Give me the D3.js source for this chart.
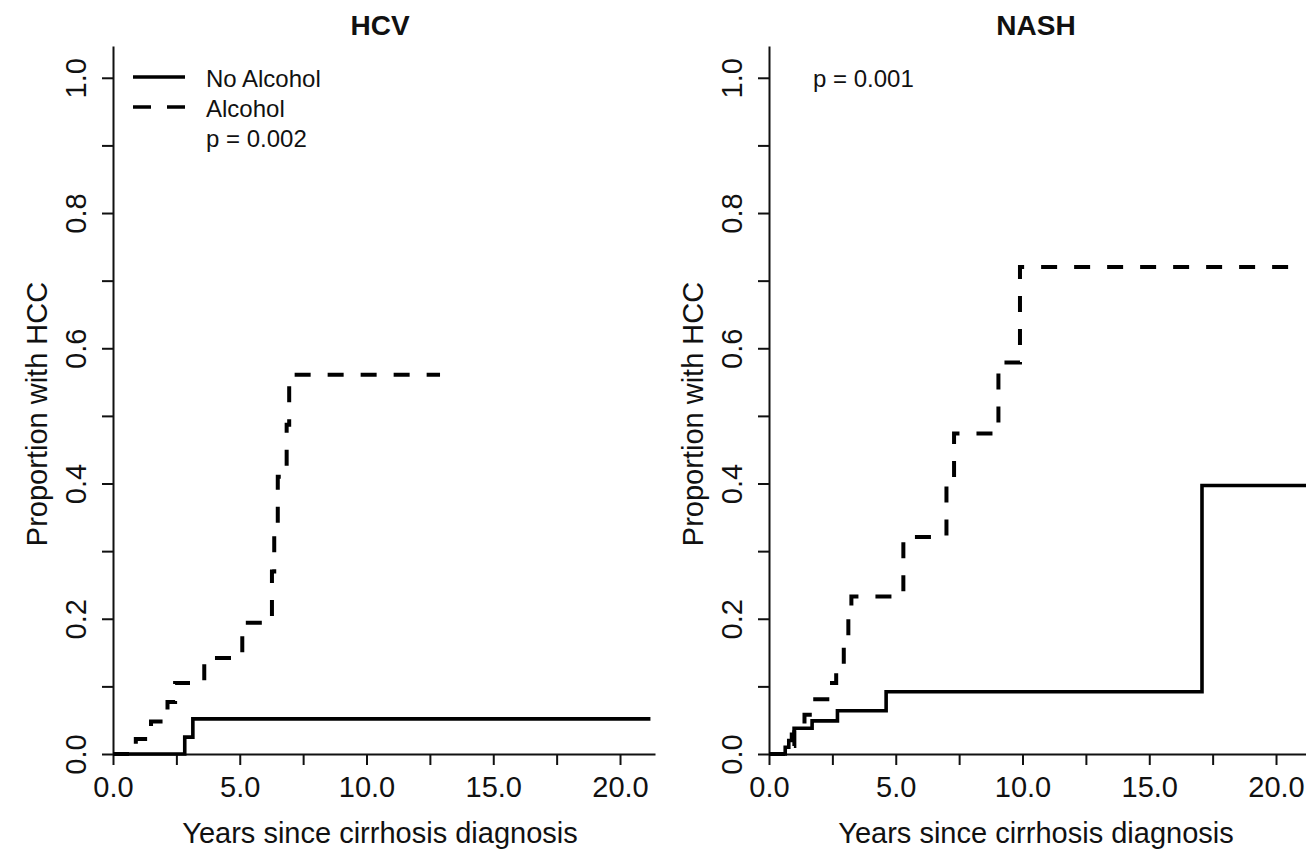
<!DOCTYPE html>
<html>
<head>
<meta charset="utf-8">
<script src="https://cdn.jsdelivr.net/npm/d3@7"></script>
<style>
  body { margin: 0; background: #fff; }
  svg { display: block; font-family: "Liberation Sans", Arial, Helvetica, sans-serif; }
</style>
</head>
<body>
<div id="chart"></div>
<script>
// Kaplan-Meier style step data (years, proportion with HCC)
const hcvNoAlcoholTime = [0, 2.83, 3.15, 21.2];
const hcvNoAlcoholProp = [0, 0.025, 0.052, 0.052];
const hcvAlcoholTime = [0, 0.9, 1.5, 2.15, 2.45, 3.6, 5.1, 6.27, 6.36, 6.5, 6.85, 6.95, 12.9];
const hcvAlcoholProp = [0, 0.022, 0.048, 0.077, 0.105, 0.142, 0.194, 0.27, 0.34, 0.41, 0.487, 0.561, 0.561];

const nashNoAlcoholTime = [0, 0.64, 0.78, 0.89, 0.99, 1.7, 2.7, 4.62, 17.08, 21.6];
const nashNoAlcoholProp = [0, 0.01, 0.02, 0.029, 0.038, 0.049, 0.064, 0.092, 0.397, 0.397];
const nashAlcoholTime = [0, 0.7, 1.0, 1.4, 1.7, 2.3, 2.65, 2.95, 3.13, 3.25, 5.3, 7.0, 7.3, 9.05, 9.9, 20.6];
const nashAlcoholProp = [0, 0.012, 0.035, 0.058, 0.081, 0.105, 0.128, 0.17, 0.2, 0.233, 0.321, 0.408, 0.474, 0.579, 0.72, 0.72];

const xTicks = [0, 2.5, 5, 7.5, 10, 12.5, 15, 17.5, 20];
const yTicks = [0, 0.1, 0.2, 0.3, 0.4, 0.5, 0.6, 0.7, 0.8, 0.9, 1.0];
const panelTitles = ['HCV', 'NASH'];
const pValues = ['p = 0.002', 'p = 0.001'];
const legendLabels = ['No Alcohol', 'Alcohol'];

const width = 1306, height = 851;
const svg = d3.select('#chart').append('svg')
  .attr('width', width)
  .attr('height', height);

const panels = [
  { left: 113, noAlc: [hcvNoAlcoholTime, hcvNoAlcoholProp], alc: [hcvAlcoholTime, hcvAlcoholProp] },
  { left: 769, noAlc: [nashNoAlcoholTime, nashNoAlcoholProp], alc: [nashAlcoholTime, nashAlcoholProp] }
];

panels.forEach((p, i) => {
  const x = d3.scaleLinear().domain([0, 21.38]).range([p.left, p.left + 542]);
  const y = d3.scaleLinear().domain([0, 1.047]).range([754, 46]);

  const g = svg.append('g');

  // x axis
  const xAxis = d3.axisBottom(x)
    .tickValues(xTicks)
    .tickSize(11)
    .tickSizeOuter(0)
    .tickFormat(d => (d % 5 === 0 ? d.toFixed(1) : ''));
  const gx = g.append('g').attr('transform', `translate(0,${y(0)})`).call(xAxis);
  gx.select('.domain').attr('stroke', '#111').attr('stroke-width', 2);
  gx.selectAll('.tick line').attr('stroke', '#111').attr('stroke-width', 2);
  gx.selectAll('.tick text')
    .attr('y', 43).attr('dy', 0)
    .attr('fill', '#111')
    .style('font-size', '29px');

  // y axis
  const yAxis = d3.axisLeft(y)
    .tickValues(yTicks)
    .tickSize(11)
    .tickSizeOuter(0)
    .tickFormat(d => (Math.round(d * 10) % 2 === 0 ? d.toFixed(1) : ''));
  const gy = g.append('g').attr('transform', `translate(${x(0)},0)`).call(yAxis);
  gy.select('.domain').attr('stroke', '#111').attr('stroke-width', 2);
  gy.selectAll('.tick line').attr('stroke', '#111').attr('stroke-width', 2);
  gy.selectAll('.tick text')
    .attr('transform', 'rotate(-90)')
    .attr('x', 0).attr('y', -27).attr('dy', 0)
    .attr('text-anchor', 'middle')
    .attr('fill', '#111')
    .style('font-size', '29px');

  // step curves
  const line = d3.line()
    .x(d => x(d[0]))
    .y(d => y(d[1]))
    .curve(d3.curveStepAfter);

  const solid = d3.zip(p.noAlc[0], p.noAlc[1]);
  const dashed = d3.zip(p.alc[0], p.alc[1]);

  g.append('path')
    .datum(dashed)
    .attr('fill', 'none')
    .attr('stroke', '#000')
    .attr('stroke-width', 4)
    .attr('stroke-dasharray', '16,17')
    .attr('d', line);

  g.append('path')
    .datum(solid)
    .attr('fill', 'none')
    .attr('stroke', '#000')
    .attr('stroke-width', 3.6)
    .attr('d', line);

  const mid = p.left + 267;

  // title
  g.append('text')
    .attr('x', mid).attr('y', 35)
    .attr('text-anchor', 'middle')
    .style('font-size', '28px')
    .style('font-weight', 'bold')
    .attr('fill', '#111')
    .text(panelTitles[i]);

  // axis titles
  g.append('text')
    .attr('x', mid).attr('y', 843)
    .attr('text-anchor', 'middle')
    .style('font-size', '29px')
    .attr('fill', '#111')
    .text('Years since cirrhosis diagnosis');

  g.append('text')
    .attr('transform', `translate(${p.left - 66},414) rotate(-90)`)
    .attr('text-anchor', 'middle')
    .style('font-size', '29px')
    .attr('fill', '#111')
    .text('Proportion with HCC');

  // legend / p-value
  if (i === 0) {
    const lg = g.append('g');
    legendLabels.forEach((lab, k) => {
      lg.append('line')
        .attr('x1', 133).attr('x2', 185)
        .attr('y1', 77 + k * 30).attr('y2', 77 + k * 30)
        .attr('stroke', '#000')
        .attr('stroke-width', 3.6)
        .attr('stroke-dasharray', k === 1 ? '18,16' : null);
      lg.append('text')
        .attr('x', 206).attr('y', 87 + k * 30)
        .style('font-size', '24px')
        .attr('fill', '#111')
        .text(lab);
    });
    lg.append('text')
      .attr('x', 206).attr('y', 147)
      .style('font-size', '24px')
      .attr('fill', '#111')
      .text(pValues[0]);
  } else {
    g.append('text')
      .attr('x', p.left + 44).attr('y', 87)
      .style('font-size', '24px')
      .attr('fill', '#111')
      .text(pValues[1]);
  }
});
</script>
</body>
</html>
